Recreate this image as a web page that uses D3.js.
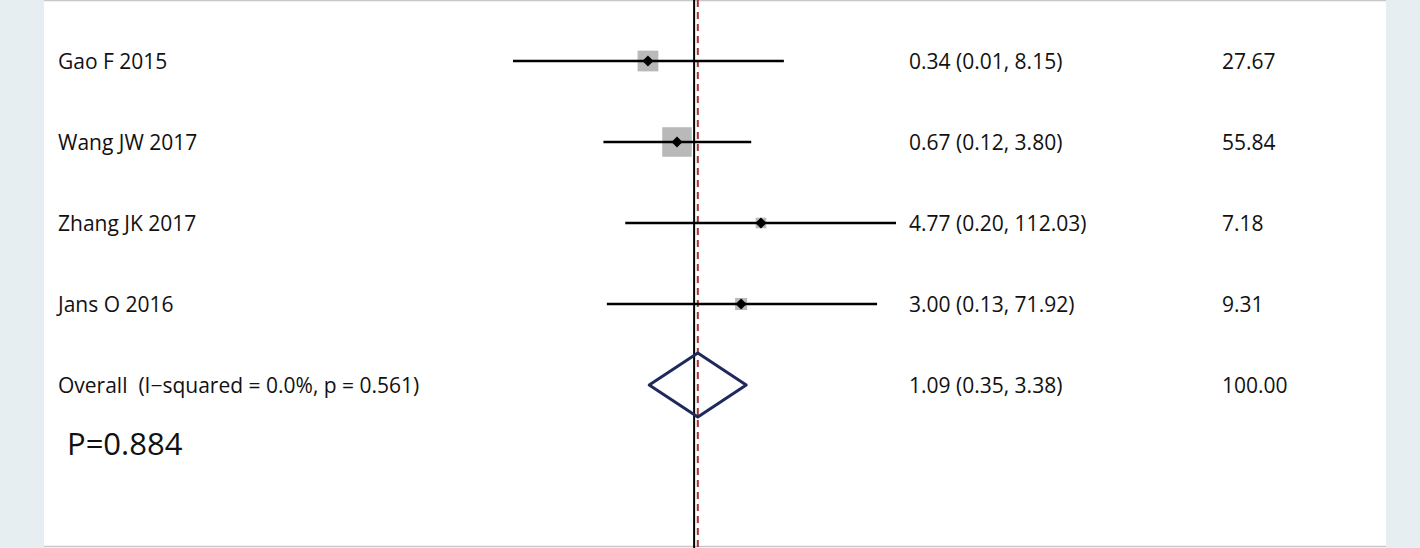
<!DOCTYPE html>
<html>
<head>
<meta charset="utf-8">
<script src="https://cdn.jsdelivr.net/npm/d3@7"></script>
<style>
  html, body { margin: 0; padding: 0; background: #e6eef1; }
  svg { display: block; }
  text { font-family: "Open Sans", "Liberation Sans", sans-serif; fill: #111; white-space: pre; }
</style>
</head>
<body>
<svg id="chart" width="1420" height="548"></svg>
<script>
// ---- data ----
const studies   = ["Gao F 2015", "Wang JW 2017", "Zhang JK 2017", "Jans O 2016"];
const estimates = [0.34, 0.67, 4.77, 3.00];
const lowers    = [0.01, 0.12, 0.20, 0.13];
const uppers    = [8.15, 3.80, 112.03, 71.92];
const weights   = [27.67, 55.84, 7.18, 9.31];
const effectLabels = ["0.34 (0.01, 8.15)", "0.67 (0.12, 3.80)", "4.77 (0.20, 112.03)", "3.00 (0.13, 71.92)"];
const weightLabels = ["27.67", "55.84", "7.18", "9.31"];
const overallLabel = "Overall  (I\u2212squared = 0.0%, p = 0.561)";
const overallEst   = [1.09];
const overallCI    = [0.35, 3.38];
const overallEffectLabel = "1.09 (0.35, 3.38)";
const overallWeightLabel = "100.00";
const axisDomain = [0.0145, 112.03];
const pText = "P=0.884";

// ---- layout ----
const W = 1420, H = 548;
const panelL = 44, panelR = 1386;
const svg = d3.select("#chart");

svg.append("rect").attr("x", 0).attr("y", 0).attr("width", W).attr("height", H).attr("fill", "#e6eef1");
svg.append("rect").attr("x", panelL).attr("y", 0).attr("width", panelR - panelL).attr("height", H).attr("fill", "#ffffff");
svg.append("line").attr("x1", panelL).attr("x2", panelR).attr("y1", 0.5).attr("y2", 0.5)
   .attr("stroke", "#c8c8c8").attr("stroke-width", 1.5);
svg.append("line").attr("x1", panelL).attr("x2", panelR).attr("y1", 546.5).attr("y2", 546.5)
   .attr("stroke", "#c8c8c8").attr("stroke-width", 1.5);

const x = d3.scaleLog().domain(axisDomain).range([513, 896]).clamp(true);
const rows = studies.concat(["overall"]);
const y = d3.scalePoint().domain(rows).range([61, 385]);
const boxSide = d3.scaleSqrt().domain([0, 100]).range([0, 39.5]);

// reference lines
svg.append("line").attr("x1", x(1)).attr("x2", x(1)).attr("y1", 0).attr("y2", H)
   .attr("stroke", "#000").attr("stroke-width", 2);
svg.append("line").attr("x1", x(overallEst[0])).attr("x2", x(overallEst[0])).attr("y1", 0).attr("y2", H)
   .attr("stroke", "#a8323a").attr("stroke-width", 2).attr("stroke-dasharray", "7,5");

const data = studies.map((s, i) => ({s, est: estimates[i], lo: lowers[i], hi: uppers[i], w: weights[i], eff: effectLabels[i], wl: weightLabels[i]}));

const g = svg.append("g");
// boxes
g.selectAll("rect.box").data(data).join("rect").attr("class", "box")
  .attr("x", d => x(d.est) - boxSide(d.w) / 2)
  .attr("y", d => y(d.s) - boxSide(d.w) / 2)
  .attr("width", d => boxSide(d.w)).attr("height", d => boxSide(d.w))
  .attr("fill", "#b9b9b9");
// CI lines
g.selectAll("line.ci").data(data).join("line").attr("class", "ci")
  .attr("x1", d => x(d.lo)).attr("x2", d => x(d.hi))
  .attr("y1", d => y(d.s)).attr("y2", d => y(d.s))
  .attr("stroke", "#000").attr("stroke-width", 2.5);
// point diamonds
g.selectAll("path.pt").data(data).join("path").attr("class", "pt")
  .attr("d", d => { const cx = x(d.est), cy = y(d.s), r = 5.5; return `M${cx-r},${cy}L${cx},${cy-r}L${cx+r},${cy}L${cx},${cy+r}Z`; })
  .attr("fill", "#000");

// overall diamond
const oy = y("overall");
svg.append("path")
  .attr("d", `M${x(overallCI[0])},${oy}L${x(overallEst[0])},${oy-32}L${x(overallCI[1])},${oy}L${x(overallEst[0])},${oy+32}Z`)
  .attr("fill", "none").attr("stroke", "#1f2a5c").attr("stroke-width", 3).attr("stroke-linejoin", "round");

// texts
const fs = 21;
g.selectAll("text.lab").data(data).join("text").attr("class", "lab")
  .attr("x", 58).attr("y", d => y(d.s) + 7.5).attr("font-size", fs).text(d => d.s);
g.selectAll("text.eff").data(data).join("text").attr("class", "eff")
  .attr("x", 909).attr("y", d => y(d.s) + 7.5).attr("font-size", fs).text(d => d.eff);
g.selectAll("text.wt").data(data).join("text").attr("class", "wt")
  .attr("x", 1222).attr("y", d => y(d.s) + 7.5).attr("font-size", fs).text(d => d.wl);

svg.append("text").attr("x", 58).attr("y", oy + 7.5).attr("font-size", fs).attr("xml:space", "preserve").text(overallLabel);
svg.append("text").attr("x", 909).attr("y", oy + 7.5).attr("font-size", fs).text(overallEffectLabel);
svg.append("text").attr("x", 1222).attr("y", oy + 7.5).attr("font-size", fs).text(overallWeightLabel);

svg.append("text").attr("x", 67).attr("y", 455).attr("font-size", 31).text(pText);
</script>
</body>
</html>
